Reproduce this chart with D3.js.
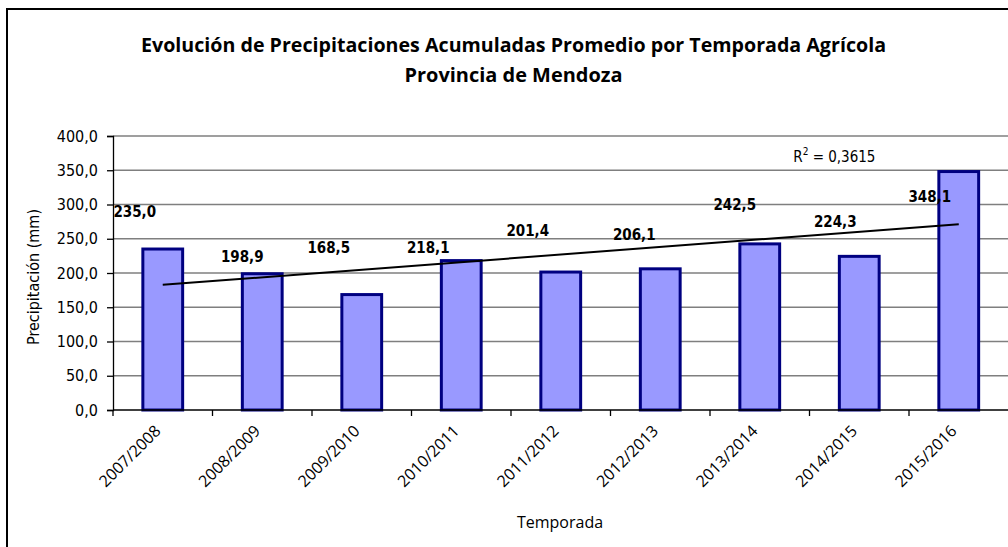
<!DOCTYPE html>
<html>
<head>
<meta charset="utf-8">
<script src="https://cdn.jsdelivr.net/npm/d3@7"></script>
<style>
  body { margin: 0; background: #fff; }
  svg { display: block; }
</style>
</head>
<body>
<svg width="1008" height="547"></svg>
<script>
// data
var seasons = ["2007/2008", "2008/2009", "2009/2010", "2010/2011", "2011/2012",
               "2012/2013", "2013/2014", "2014/2015", "2015/2016"];
var rainfall = [235.0, 198.9, 168.5, 218.1, 201.4, 206.1, 242.5, 224.3, 348.1];
var yTicks = [0, 50, 100, 150, 200, 250, 300, 350, 400];
var r2Text = "0,3615";

// hand placed data labels (px from the bar centre / bar top), as in the source chart
var labelNudge = [[-28, -37], [-20, -17], [-33, -47], [-33, -13], [-33, -41],
                  [-26, -34], [-25, -39], [-24, -35], [-29, 25]];

var svg = d3.select("svg"),
    margin = {top: 136, right: 0, bottom: 137, left: 113},
    width = 895.5,
    height = 274;

var fmt = function(v) { return d3.format(".1f")(v).replace(".", ","); };
var condensed = "'DejaVu Sans Condensed', 'DejaVu Sans', sans-serif";

// outer frame (cut off at right/bottom like the original)
svg.append("rect")
    .attr("x", 7).attr("y", 9)
    .attr("width", 1020).attr("height", 560)
    .attr("fill", "none").attr("stroke", "#000").attr("stroke-width", 2);

// title
var title = svg.append("g").attr("font-family", "'Open Sans', sans-serif")
    .attr("font-weight", "bold").attr("font-size", 20).attr("text-anchor", "middle").attr("fill", "#000");
title.append("text").attr("x", 513.5).attr("y", 52)
    .attr("textLength", 745).attr("lengthAdjust", "spacingAndGlyphs")
    .text("Evolución de Precipitaciones Acumuladas Promedio por Temporada Agrícola");
title.append("text").attr("x", 513.5).attr("y", 82)
    .attr("textLength", 218).attr("lengthAdjust", "spacingAndGlyphs")
    .text("Provincia de Mendoza");

var x = d3.scaleBand().domain(seasons).range([0, width]).paddingInner(0.6).paddingOuter(0.3),
    y = d3.scaleLinear().domain([0, 400]).range([height, 0]);

var g = svg.append("g")
    .attr("transform", "translate(" + margin.left + "," + margin.top + ")");

// gridlines
g.append("g")
    .selectAll("line")
    .data(yTicks.slice(1))
    .enter().append("line")
    .attr("x1", 0).attr("x2", width)
    .attr("y1", function(d) { return y(d); })
    .attr("y2", function(d) { return y(d); })
    .attr("stroke", "#7f7f7f").attr("stroke-width", 1.3);

// y axis
var yAxis = g.append("g")
    .call(d3.axisLeft(y).tickValues(yTicks).tickSize(6).tickPadding(9).tickFormat(fmt));
yAxis.select(".domain").attr("stroke", "#000").attr("stroke-width", 1.3);
yAxis.selectAll(".tick line").attr("stroke", "#000").attr("stroke-width", 1.3);
yAxis.selectAll("text").attr("font-family", condensed).attr("font-size", 16).attr("fill", "#000");

g.append("text")
    .attr("transform", "translate(-74," + (height / 2 + 4) + ") rotate(-90)")
    .attr("text-anchor", "middle")
    .attr("font-family", condensed).attr("font-size", 16).attr("fill", "#000")
    .text("Precipitación (mm)");

// bars
g.selectAll(".bar")
    .data(rainfall)
    .enter().append("rect")
    .attr("class", "bar")
    .attr("x", function(d, i) { return x(seasons[i]); })
    .attr("y", function(d) { return y(d); })
    .attr("width", x.bandwidth())
    .attr("height", function(d) { return height - y(d); })
    .attr("fill", "#9999ff")
    .attr("stroke", "#000080").attr("stroke-width", 3);

// x axis: ticks on the category borders
var xAxis = g.append("g").attr("transform", "translate(0," + height + ")");
xAxis.append("line").attr("x1", 0).attr("x2", width).attr("stroke", "#000").attr("stroke-width", 1.3);
xAxis.selectAll(".sep")
    .data(seasons)
    .enter().append("line")
    .attr("class", "sep")
    .attr("x1", function(d) { return x(d) - x.step() * 0.3; })
    .attr("x2", function(d) { return x(d) - x.step() * 0.3; })
    .attr("y1", 0).attr("y2", 6)
    .attr("stroke", "#000").attr("stroke-width", 1.3);
xAxis.selectAll(".lbl")
    .data(seasons)
    .enter().append("text")
    .attr("class", "lbl")
    .attr("transform", function(d) {
        return "translate(" + (x(d) + x.bandwidth() / 2 - 1) + ",22) rotate(-45)";
    })
    .attr("text-anchor", "end")
    .attr("font-family", "'Open Sans', sans-serif").attr("font-size", 16).attr("fill", "#000")
    .text(function(d) { return d; });

g.append("text")
    .attr("x", 447).attr("y", 392)
    .attr("text-anchor", "middle")
    .attr("font-family", "'Open Sans', sans-serif").attr("font-size", 16).attr("fill", "#000")
    .text("Temporada");

// linear trend line (least squares over 1..n)
var n = rainfall.length,
    mx = (n + 1) / 2,
    my = d3.mean(rainfall),
    sxy = d3.sum(rainfall, function(d, i) { return (i + 1 - mx) * (d - my); }),
    sxx = d3.sum(rainfall, function(d, i) { return (i + 1 - mx) * (i + 1 - mx); }),
    slope = sxy / sxx,
    icpt = my - slope * mx;
var cx = function(i) { return x(seasons[i]) + x.bandwidth() / 2; };
g.append("line")
    .attr("x1", cx(0)).attr("y1", y(icpt + slope))
    .attr("x2", cx(n - 1)).attr("y2", y(icpt + slope * n))
    .attr("stroke", "#000").attr("stroke-width", 2);

// R^2 label
var r2 = g.append("text")
    .attr("x", cx(7) - 66).attr("y", 26)
    .attr("font-family", condensed).attr("font-size", 15).attr("fill", "#000");
r2.append("tspan").text("R");
r2.append("tspan").attr("font-size", 10).attr("dy", -7).text("2");
r2.append("tspan").attr("dy", 7).text(" = " + r2Text);

// value labels
g.selectAll(".val")
    .data(rainfall)
    .enter().append("text")
    .attr("class", "val")
    .attr("x", function(d, i) { return cx(i) + labelNudge[i][0]; })
    .attr("y", function(d, i) { return y(d) + labelNudge[i][1]; })
    .attr("dy", "0.35em")
    .attr("text-anchor", "middle")
    .attr("font-family", condensed).attr("font-weight", "bold").attr("font-size", 15).attr("fill", "#000")
    .text(fmt);
</script>
</body>
</html>
